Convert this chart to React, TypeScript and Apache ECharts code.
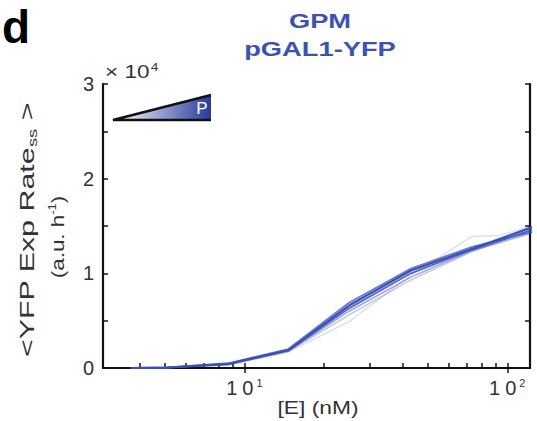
import React, { useEffect, useRef } from "react";
import * as echarts from "echarts";

const concE = [3.7, 5.1, 8.7, 14.7, 25, 43, 73.5, 125];
const concELight = [3.7, 8.7, 14.7, 25, 43, 73.5, 93, 125];
const rate1 = [0, 50, 450, 1900, 6600, 10300, 12600, 14900];
const rate2 = [0, 40, 400, 1850, 6300, 10000, 12500, 14600];
const rate3 = [0, 60, 500, 2000, 6900, 10500, 12800, 14400];
const rate4 = [0, 30, 380, 1800, 6000, 9600, 12400, 14300];
const rate5 = [0, 20, 350, 1750, 5600, 9300, 12300, 14700];
const rateLight = [0, 300, 1700, 4900, 9800, 13900, 14000, 15000];
const xTicks = [4, 5, 6, 7, 8, 9, 10, 20, 30, 40, 50, 60, 70, 80, 90, 100];
const xTicksTop = [10, 100];
const xLabels = [10, 100];

const BLUE = "#3a4fb8";
const TITLE = "#3c52b0";
const GREY = "#333";

export default function App() {
  const ref = useRef<HTMLDivElement>(null);
  useEffect(() => {
    const chart = echarts.init(ref.current!, null, { renderer: "svg" });
    const mk = (xs: number[], ys: number[], color: string, w: number, z: number) => ({
      type: "line",
      data: xs.map((x, i) => [x, ys[i]]),
      symbol: "none",
      lineStyle: { color, width: w },
      z,
      clip: true,
    });
    const font = "Liberation Sans, Arial, sans-serif";
    const axisLine = { show: true, lineStyle: { color: "#111", width: 2.2 } };
    const tickStyle = { color: "#111", width: 1.5 };
    chart.setOption({
      animation: false,
      grid: { left: 103, top: 84, right: 7, bottom: 53 },
      xAxis: [
        {
          type: "log",
          logBase: 10,
          min: 2.9,
          max: 122,
          axisLine,
          axisTick: { inside: true, length: 5, customValues: xTicks, lineStyle: tickStyle },
          splitLine: { show: false },
          axisLabel: {
            customValues: xLabels,
            margin: 9,
            formatter: (v: number) => "{a|1}{b|0}{s|" + Math.round(Math.log10(v)) + "}",
            rich: {
              a: { fontSize: 20, color: GREY, fontFamily: font },
              b: { fontSize: 20, color: GREY, fontFamily: font, padding: [0, 0, 0, 5] },
              s: { fontSize: 11, verticalAlign: "top", color: GREY, fontFamily: font, padding: [0, 0, 10, 3] },
            },
          },
        },
        {
          type: "log",
          logBase: 10,
          min: 2.9,
          max: 122,
          position: "top",
          axisLine,
          axisTick: { inside: true, length: 5, customValues: xTicksTop, lineStyle: tickStyle },
          axisLabel: { show: false },
          splitLine: { show: false },
        },
      ],
      yAxis: [
        {
          type: "value",
          min: 0,
          max: 30000,
          interval: 5000,
          axisLine,
          axisTick: { show: true, inside: true, length: 5, lineStyle: tickStyle },
          splitLine: { show: false },
          axisLabel: {
            formatter: (v: number) => (v % 10000 === 0 ? String(v / 10000) : ""),
            color: GREY,
            fontSize: 20,
            fontFamily: font,
            margin: 9,
          },
        },
        {
          type: "value",
          min: 0,
          max: 30000,
          interval: 5000,
          position: "right",
          axisLine,
          axisTick: { show: true, inside: true, length: 5, lineStyle: tickStyle },
          axisLabel: { show: false },
          splitLine: { show: false },
        },
      ],
      series: [
        mk(concELight, rateLight, "rgba(58,79,184,0.18)", 1.5, 1),
        mk(concE, rate5, "rgba(58,79,184,0.3)", 1.5, 2),
        mk(concE, rate4, "rgba(58,79,184,0.5)", 1.6, 3),
        mk(concE, rate3, "rgba(58,79,184,0.75)", 1.8, 4),
        mk(concE, rate2, "rgba(58,79,184,0.85)", 1.8, 5),
        mk(concE, rate1, BLUE, 2.2, 6),
      ],
      graphic: [
        { type: "text", x: 2, y: 27, style: { text: "d", fontSize: 46, fontWeight: "bold", fill: "#000", fontFamily: font, verticalAlign: "middle" } },
        { type: "text", x: 320, y: 21, scaleX: 1.3, style: { text: "GPM", fontSize: 21, fontWeight: "bold", fill: TITLE, fontFamily: font, align: "center", verticalAlign: "middle" } },
        { type: "text", x: 320, y: 49, scaleX: 1.3, style: { text: "pGAL1-YFP", fontSize: 21, fontWeight: "bold", fill: TITLE, fontFamily: font, align: "center", verticalAlign: "middle" } },
        {
          type: "text",
          x: 105,
          y: 72,
          scaleX: 1.25,
          style: {
            text: "× 10{s|4}",
            fontSize: 18,
            fill: GREY,
            fontFamily: font,
            verticalAlign: "middle",
            rich: { s: { fontSize: 11, verticalAlign: "top", fill: GREY, fontFamily: font, padding: [0, 0, 9, 1] } },
          },
        },
        {
          type: "text",
          x: 27,
          y: 230,
          rotation: Math.PI / 2,
          scaleX: 1.52,
          style: {
            text: "<YFP Exp Rate{s|ss} >",
            fontSize: 20,
            fill: GREY,
            fontFamily: font,
            align: "center",
            verticalAlign: "middle",
            rich: { s: { fontSize: 12, fill: GREY, fontFamily: font, padding: [12, 0, 0, 0] } },
          },
        },
        {
          type: "text",
          x: 57,
          y: 237,
          rotation: Math.PI / 2,
          scaleX: 1.18,
          style: {
            text: "(a.u. h{s|-1})",
            fontSize: 19,
            fill: GREY,
            fontFamily: font,
            align: "center",
            verticalAlign: "middle",
            rich: { s: { fontSize: 11, fill: GREY, fontFamily: font, padding: [0, 0, 9, 0] } },
          },
        },
        {
          type: "text",
          x: 318,
          y: 407,
          scaleX: 1.2,
          style: { text: "[E] (nM)", fontSize: 19, fill: GREY, fontFamily: font, align: "center", verticalAlign: "middle" },
        },
        {
          type: "polygon",
          shape: { points: [[113, 120], [211, 95], [211, 120]] },
          style: {
            fill: new echarts.graphic.LinearGradient(0, 0, 1, 0, [
              { offset: 0, color: "#ffffff" },
              { offset: 1, color: "#2a3a9c" },
            ]),
          },
          z: 10,
        },
        {
          type: "polyline",
          shape: { points: [[211, 95], [113, 120], [211, 120]] },
          style: { stroke: "#111", lineWidth: 2.5, fill: "none" },
          z: 11,
        },
        { type: "text", x: 202, y: 108, z: 12, style: { text: "P", fontSize: 17, fill: "#fff", fontFamily: font, align: "center", verticalAlign: "middle" } },
      ],
    });
    return () => chart.dispose();
  }, []);
  return <div ref={ref} style={{ position: "absolute", left: 0, top: 0, width: 537, height: 421 }} />;
}
